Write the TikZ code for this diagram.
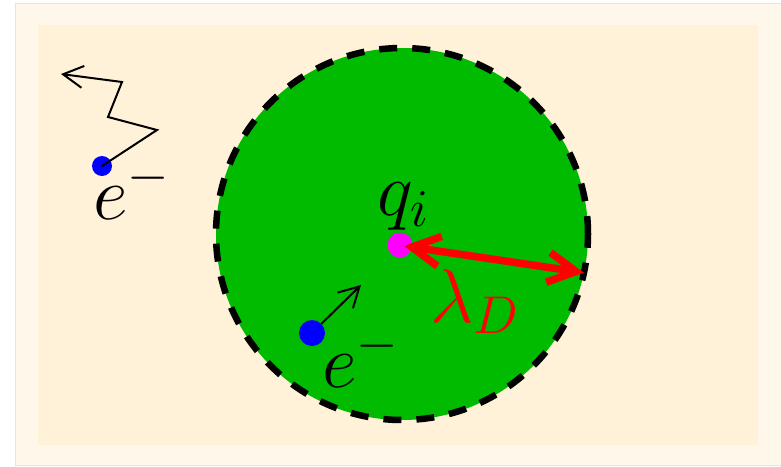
\RequirePackage{fix-cm}
\documentclass[tikz,border=0pt]{standalone}
\usetikzlibrary{arrows.meta}

\definecolor{debyegreen}{RGB}{0,187,0}
\definecolor{ionmagenta}{RGB}{255,0,255}
\definecolor{plasmacream}{RGB}{255,242,217}
\definecolor{framecream}{RGB}{255,248,234}
\definecolor{frameline}{RGB}{255,225,160}

\tikzset{
  bigmath/.style={inner sep=0pt, font=\fontsize{76}{80}\selectfont},
  electron/.style={circle, fill=blue, inner sep=0pt, outer sep=0pt},
  path arrow/.style={line width=2pt, -{Straight Barb[length=20pt,width=22pt]}},
}

\begin{document}
\begin{tikzpicture}[x=1pt, y=-1pt]

  \useasboundingbox (0,0) rectangle (781,466);

  % Background
  \filldraw[fill=framecream, draw=frameline, line width=1.5pt] (15.5,3.5) rectangle (790,465.5);
  \fill[plasmacream] (38,25) rectangle (758,445);

  % Debye sphere
  \node[circle, fill=debyegreen, minimum size=372pt, inner sep=0pt, outer sep=0pt] (sphere) at (402,234) {};
  \draw[line width=6.5pt, dash pattern=on 18pt off 15pt] (sphere.center) circle (186pt);

  % Charges
  \node[circle, fill=ionmagenta, minimum size=25pt, inner sep=0pt, outer sep=0pt] (qdot) at (400,245) {};
  \node[electron, minimum size=26pt] (ein) at (312,333) {};
  \node[electron, minimum size=20pt] (eout) at (102,166) {};

  \coordinate (einTip) at (361,285);
  \coordinate (eoutA) at (157,130);
  \coordinate (eoutB) at (108,117);
  \coordinate (eoutC) at (122,82);
  \coordinate (eoutTip) at (61,74);

  % Motion of the electrons
  \draw[path arrow] (ein) -- (einTip);
  \draw[path arrow, line join=miter] (eout.center) -- (eoutA) -- (eoutB) -- (eoutC) -- (eoutTip);

  % Debye length
  \draw[red, line width=7.5pt, {Straight Barb[length=28pt,width=30pt]}-{Straight Barb[length=28pt,width=30pt]}]
    ([shift={(4pt,-1pt)}]qdot.center) -- (sphere.-12);

  % Labels
  \node[bigmath, anchor=base west] (qlabel) at (377,215) {$q_i$};
  \node[bigmath, anchor=base west] (einlabel) at (322,387) {$e^-$};
  \node[bigmath, anchor=base west] (eoutlabel) at (93,219) {$e^-$};
  \node[bigmath, anchor=base west, red] (lambda) at (430,322) {$\lambda_D$};

\end{tikzpicture}
\end{document}
